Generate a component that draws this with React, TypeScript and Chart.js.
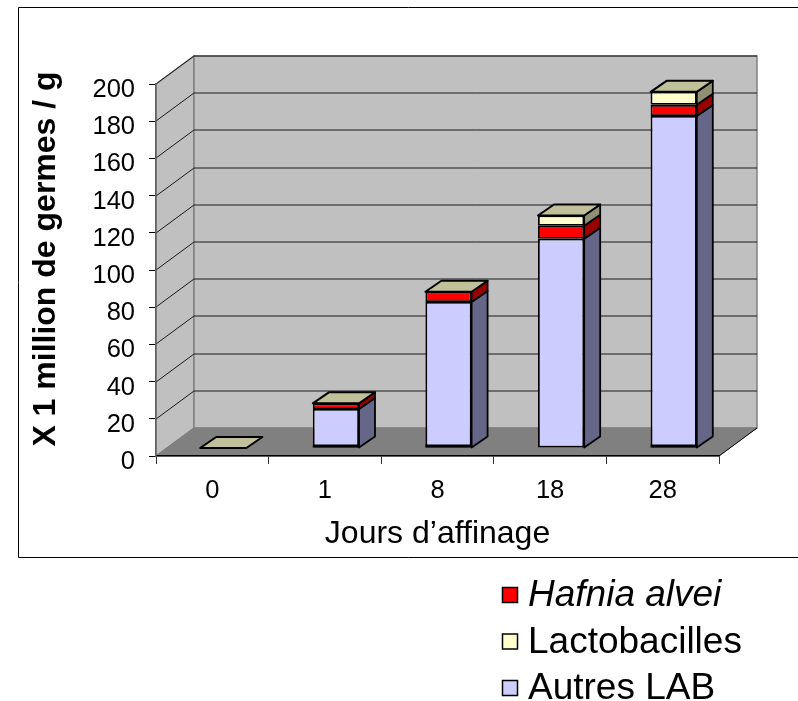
import React, { useEffect, useRef } from "react";
import { Chart, registerables } from "chart.js";

Chart.register(...registerables);

const categories = ["0", "1", "8", "18", "28"];
const autresLab = [0, 21, 78.5, 112.5, 178.5];
const hafnia = [0, 3, 5.5, 7, 6];
const lactobacilles = [0, 0, 0, 5.5, 7];
const legendOrder = [1, 2, 0];
const heavyBase = [false, true, true, false, true];
const yTitle = "X 1 million de germes / g";

const FONT = '"Liberation Sans", Arial, sans-serif';
const WALL_DX = 38;
const WALL_DY = 28;
const BAR_SHIFT_X = 11;
const BAR_SHIFT_Y = 8;
const BAR_DX = 16;
const BAR_DY = 11;

const poly = (ctx: CanvasRenderingContext2D, pts: number[][], fill: string, stroke: string, lw: number) => {
  ctx.beginPath();
  pts.forEach((p, i) => (i ? ctx.lineTo(p[0], p[1]) : ctx.moveTo(p[0], p[1])));
  ctx.closePath();
  ctx.fillStyle = fill;
  ctx.fill();
  if (lw > 0) {
    ctx.strokeStyle = stroke;
    ctx.lineWidth = lw;
    ctx.stroke();
  }
};

const sideColors = ["#666688", "#990000", "#8F8F73"];
const topColor = "#C0C09A";

const scene = {
  id: "scene3d",
  beforeDraw(chart: any) {
    const { ctx, chartArea: a, scales } = chart;
    const y = scales.y;
    ctx.save();
    ctx.strokeStyle = "#000";
    ctx.lineWidth = 1;
    ctx.beginPath();
    ctx.moveTo(798, 7.5);
    ctx.lineTo(18.5, 7.5);
    ctx.lineTo(18.5, 557.5);
    ctx.lineTo(798, 557.5);
    ctx.stroke();
    const bx = a.left + WALL_DX;
    const rx = a.right + WALL_DX;
    const ty = a.top - WALL_DY;
    const by = a.bottom - WALL_DY;
    poly(ctx, [[a.left, a.top], [bx, ty], [bx, by], [a.left, a.bottom]], "#C0C0C0", "#808080", 1.5);
    poly(ctx, [[bx, ty], [rx, ty], [rx, by], [bx, by]], "#C0C0C0", "#808080", 1.5);
    poly(ctx, [[a.left, a.bottom], [bx, by], [rx, by], [a.right, a.bottom]], "#808080", "#808080", 1);
    ctx.strokeStyle = "#1a1a1a";
    ctx.lineWidth = 1;
    y.ticks.forEach((t: any) => {
      if (t.value === 0) return;
      const py = Math.round(y.getPixelForValue(t.value));
      ctx.beginPath();
      ctx.moveTo(a.left, py);
      ctx.lineTo(bx, py - WALL_DY);
      ctx.lineTo(rx, py - WALL_DY);
      ctx.stroke();
    });
    ctx.strokeStyle = "#000";
    ctx.lineWidth = 1;
    ctx.beginPath();
    ctx.moveTo(a.right, a.bottom);
    ctx.lineTo(rx, by);
    ctx.stroke();
    ctx.restore();
  },
  beforeDatasetsDraw(chart: any) {
    chart.ctx.save();
    chart.ctx.translate(BAR_SHIFT_X, -BAR_SHIFT_Y);
  },
  afterDatasetsDraw(chart: any) {
    const ctx = chart.ctx;
    const n = chart.data.labels.length;
    ctx.lineJoin = "round";
    for (let i = 0; i < n; i++) {
      let top: any = null;
      chart.data.datasets.forEach((ds: any, d: number) => {
        const el = chart.getDatasetMeta(d).data[i];
        const h = el.base - el.y;
        if (top === null || el.y < top.y) top = el;
        if (h > 0.01) {
          const r = el.x + el.width / 2;
          poly(
            ctx,
            [[r, el.y], [r + BAR_DX, el.y - BAR_DY], [r + BAR_DX, el.base - BAR_DY], [r, el.base]],
            sideColors[d],
            "#000",
            1.8
          );
        }
      });
      const l = top.x - top.width / 2;
      const r = top.x + top.width / 2;
      poly(
        ctx,
        [[l, top.y], [l + BAR_DX, top.y - BAR_DY], [r + BAR_DX, top.y - BAR_DY], [r, top.y]],
        topColor,
        "#000",
        2
      );
      if (heavyBase[i]) {
        const el = chart.getDatasetMeta(0).data[i];
        ctx.fillStyle = "#000";
        ctx.fillRect(l, el.base - 3, top.width, 3);
      }
    }
    ctx.restore();
  },
  afterDraw(chart: any) {
    const ctx = chart.ctx;
    ctx.save();
    legendOrder.forEach((d, k) => {
      const ds = chart.data.datasets[d];
      const cy = 595 + k * 46.5;
      ctx.fillStyle = ds.backgroundColor;
      ctx.strokeStyle = "#000";
      ctx.lineWidth = 1.5;
      ctx.fillRect(502.5, cy - 7.5, 15, 15);
      ctx.strokeRect(502.5, cy - 7.5, 15, 15);
      ctx.fillStyle = "#000";
      ctx.font = `${d === 1 ? "italic " : ""}37px ${FONT}`;
      ctx.textAlign = "left";
      ctx.textBaseline = "middle";
      ctx.fillText(ds.label, 528, cy + 1);
    });
    ctx.translate(55, 259);
    ctx.rotate(-Math.PI / 2);
    ctx.font = `bold 32px ${FONT}`;
    ctx.textAlign = "center";
    ctx.textBaseline = "alphabetic";
    ctx.fillStyle = "#000";
    ctx.fillText(yTitle, 0, 0);
    ctx.restore();
  },
};

export default function App() {
  const ref = useRef<HTMLCanvasElement>(null);
  useEffect(() => {
    const dataset = (label: string, data: number[], color: string) => ({
      label,
      data,
      backgroundColor: color,
      borderColor: "#000",
      borderWidth: 1.8,
      borderSkipped: false,
      categoryPercentage: 1,
      barPercentage: 0.41,
    });
    const chart = new Chart(ref.current!, {
      type: "bar",
      data: {
        labels: categories,
        datasets: [
          dataset("Autres LAB", autresLab, "#CCCCFF"),
          dataset("Hafnia alvei", hafnia, "#FF0000"),
          dataset("Lactobacilles", lactobacilles, "#FFFFCC"),
        ],
      },
      options: {
        responsive: false,
        animation: false,
        layout: { padding: { left: 0, top: 84, right: 79, bottom: 148 } },
        plugins: { legend: { display: false }, tooltip: { enabled: false }, title: { display: false } },
        datasets: { bar: { clip: false } },
        scales: {
          x: {
            stacked: true,
            afterFit: (s: any) => {
              s.height = 97;
            },
            grid: { drawOnChartArea: false, drawTicks: true, tickLength: 8, color: "#333", offset: true },
            border: { display: true, color: "#000", width: 1.5 },
            ticks: { color: "#000", font: { family: FONT, size: 25.5 }, padding: 12, maxRotation: 0 },
            title: {
              display: true,
              text: "Jours d’affinage",
              color: "#000",
              font: { family: FONT, size: 32 },
              padding: { top: 0, bottom: 0 },
            },
          },
          y: {
            stacked: true,
            min: 0,
            max: 200,
            afterFit: (s: any) => {
              s.width = 156;
            },
            grid: { drawOnChartArea: false, drawTicks: true, tickLength: 7, color: "#000" },
            border: { display: true, color: "#606060", width: 1.5 },
            ticks: { stepSize: 20, color: "#000", font: { family: FONT, size: 25.5 }, padding: 14, labelOffset: 6 },
            title: { display: false },
          },
        },
      },
      plugins: [scene],
    } as any);
    return () => chart.destroy();
  }, []);
  return (
    <canvas
      ref={ref}
      width={798}
      height={701}
      style={{ position: "fixed", left: 0, top: 0, display: "block", width: 798, height: 701 }}
    />
  );
}
